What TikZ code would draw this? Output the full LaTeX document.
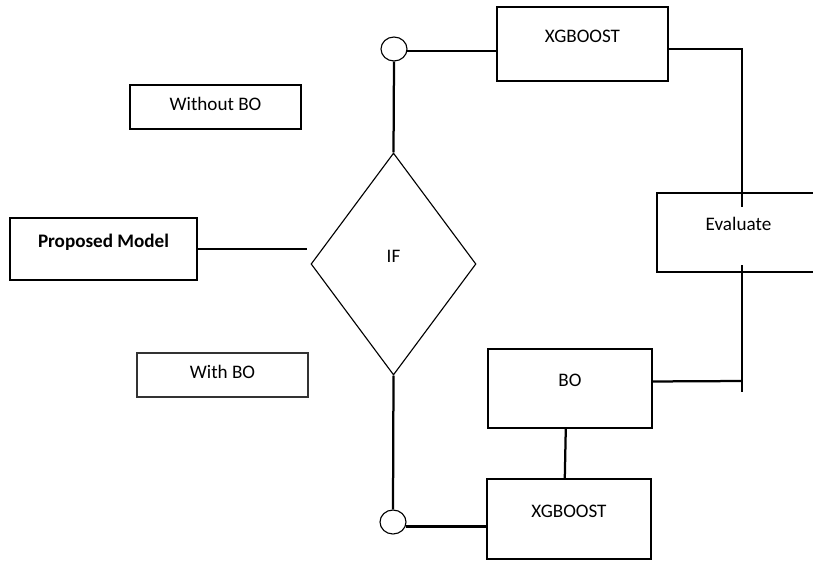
\documentclass[tikz,border=0pt]{standalone}
\usepackage{fontspec}
\setmainfont{Carlito}
\usetikzlibrary{shapes.geometric}

\begin{document}
\begin{tikzpicture}[x=0.025cm, y=-0.025cm,
	every node/.style={font=\fontsize{13.6}{16}\selectfont},
	box/.style={draw, line width=1pt, inner sep=0pt, text height=9pt, text depth=11.6pt},
	flatbox/.style={draw, line width=1pt, inner sep=0pt, text height=9pt, text depth=4.4pt,
		minimum width=171*0.025cm, minimum height=44*0.025cm},
	decide/.style={draw, shape=diamond, line width=0.8pt, inner sep=0pt, text height=9pt, text depth=11pt},
	joint/.style={draw, shape=ellipse, line width=0.8pt, inner sep=0pt,
		minimum width=26*0.025cm, minimum height=24*0.025cm},
	wire/.style={line width=1.6pt}]
\useasboundingbox (0,0) rectangle (813,561);
\node[box, minimum width=187*0.025cm, minimum height=62*0.025cm, font=\fontsize{13.6}{16}\selectfont\bfseries]
	(model) at (103.5,249) {Proposed Model};
\node[flatbox] (without) at (215.5,107) {Without BO};
\node[flatbox, draw=black!80, line width=0.8pt] (with) at (222.5,375) {With BO};
\node[decide, minimum width=165*0.025cm, minimum height=222*0.025cm] (ifnode) at (393.5,264) {IF};
\node[joint] (topc) at (394,49) {};
\node[joint] (botc) at (393,522) {};
\node[box, minimum width=171*0.025cm, minimum height=74*0.025cm] (xgbtop) at (582.5,44) {XGBOOST};
\node[box, minimum width=163*0.025cm, minimum height=79*0.025cm] (evaluate) at (738.5,232.5) {Evaluate};
\node[box, minimum width=164*0.025cm, minimum height=79*0.025cm] (bo) at (570,388.5) {BO};
\node[box, minimum width=164*0.025cm, minimum height=80*0.025cm] (xgbbot) at (569,519) {XGBOOST};
\coordinate (modelend) at (307,249);
\coordinate (evaltop) at (742,207);
\coordinate (evalbot) at (742,265);
\coordinate (bojoin) at (742,381);
\coordinate (boend) at (742,392);
\draw[wire] (model.east) -- (modelend);
\draw[wire] (topc.south) -- (ifnode.north);
\draw[wire] (ifnode.south) -- (botc.north);
\draw[wire] (topc.-10) -- (xgbtop.west |- topc.-10);
\draw[wire] (botc.-20) -- (xgbbot.west |- botc.-20);
\draw[wire] ([yshift=-3.5pt]xgbtop.east) -| (evaltop);
\draw[wire] (evalbot) -- (boend);
\draw[wire] ([yshift=5pt]bo.east) -- (bojoin);
\draw[wire] ([xshift=-3pt]bo.south) -- ([xshift=-3pt]xgbbot.north);
\end{tikzpicture}
\end{document}
